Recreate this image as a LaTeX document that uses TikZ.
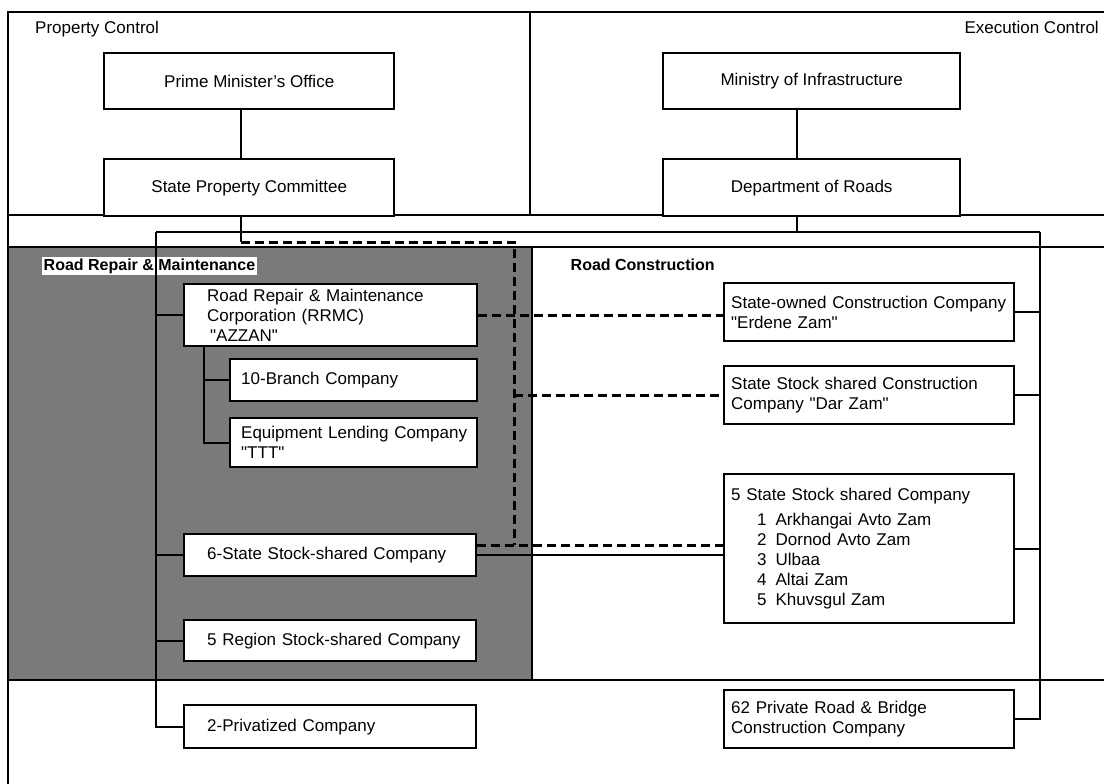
\documentclass[tikz,border=0pt]{standalone}
\usepackage{fontspec}
\setmainfont{Liberation Sans}
\newcommand{\qq}{\textquotedbl}
\newcommand{\ind}[1]{\hspace*{#1pt}}
\begin{document}
\begin{tikzpicture}[x=1pt,y=-1pt,
  every node/.style={font=\fontsize{17}{20}\selectfont},
  frame/.style={line width=1.6pt},
  box/.style={draw, line width=2.4pt, fill=white, anchor=north west, inner ysep=0pt},
  cbox/.style={box, align=center, inner xsep=0pt},
  lbox/.style={box, align=left, inner xsep=3pt},
  conn/.style={line width=2.2pt},
  dsh/.style={line width=3pt, dash pattern=on 9pt off 5pt},
  shadearea/.style={fill=black!52},
  lbl/.style={inner sep=0pt},
  seclbl/.style={font=\bfseries\fontsize{16}{20}\selectfont, inner sep=1.5pt}
]
\useasboundingbox (0,0) rectangle (1104,784);
\fill[white] (0,0) rectangle (1104,784);

% shaded area (Road Repair & Maintenance)
\fill[shadearea] (8,247) rectangle (532,680);

% frame lines
\draw[frame] (1104,12) -- (8,12) -- (8,784);
\draw[frame] (8,215) -- (1104,215);
\draw[frame] (530,12) -- (530,215);
\draw[frame] (8,247) -- (1104,247);
\draw[frame] (8,680) -- (1104,680);
\draw[frame] (532,247) -- (532,680);

% section labels
\node[lbl, anchor=base west] (pcl) at (35,34) {Property Control};
\node[lbl, anchor=base east] (ecl) at (1099,34) {Execution Control};
\node[seclbl, fill=white, anchor=base west] (rrml) at (42,270) {Road Repair \& Maintenance};
\node[seclbl, anchor=base west] (rcl) at (569,270) {Road Construction};

% top boxes
\node[cbox, minimum width=290pt, minimum height=56pt] (pmo) at (103,52) {Prime Minister's Office};
\node[cbox, minimum width=290pt, minimum height=57pt] (spc) at (103,158) {State Property Committee};
\node[cbox, minimum width=297pt, minimum height=56pt] (moi) at (662,52) {Ministry of Infrastructure};
\node[cbox, minimum width=297pt, minimum height=57pt] (dor) at (662,158) {Department of Roads};

% left boxes
\node[lbox, text width=287pt, minimum height=62pt] (rrmc) at (183,283)
  {\ind{20}Road Repair \& Maintenance\\\ind{20}Corporation (RRMC)\\\ind{23}\qq AZZAN\qq};
\node[lbox, text width=241pt, minimum height=42pt] (br10) at (229,358) {\ind{8}10-Branch Company};
\node[lbox, text width=241pt, minimum height=49pt] (elc) at (229,417) {\ind{8}Equipment Lending Company\\\ind{8}\qq TTT\qq};
\node[lbox, text width=286pt, minimum height=42pt] (s6) at (183,533) {\ind{20}6-State Stock-shared Company};
\node[lbox, text width=286pt, minimum height=41pt] (r5) at (183,619) {\ind{20}5 Region Stock-shared Company};
\node[lbox, text width=286pt, minimum height=43pt] (pv2) at (183,704) {\ind{20}2-Privatized Company};

% right boxes
\node[lbox, text width=284pt, minimum height=58pt] (erd) at (723,282)
  {\ind{4}State-owned Construction Company\\\ind{4}\qq Erdene Zam\qq};
\node[lbox, text width=284pt, minimum height=58pt] (dar) at (723,365)
  {\ind{4}State Stock shared Construction\\\ind{4}Company \qq Dar Zam\qq};
\node[lbox, text width=284pt, minimum height=149pt] (s5) at (723,473)
  {\ind{4}5 State Stock shared Company\\[5pt]
   \ind{30}1\hspace{9pt}Arkhangai Avto Zam\\
   \ind{30}2\hspace{9pt}Dornod Avto Zam\\
   \ind{30}3\hspace{9pt}Ulbaa\\
   \ind{30}4\hspace{9pt}Altai Zam\\
   \ind{30}5\hspace{9pt}Khuvsgul Zam};
\node[lbox, text width=284pt, minimum height=58pt] (pv62) at (723,689)
  {\ind{4}62 Private Road \& Bridge\\\ind{4}Construction Company};

% helper coordinates
\coordinate (cx1) at (241,0);
\coordinate (cx2) at (797,0);
\coordinate (bl) at (156,232);
\coordinate (br) at (1040,232);
\coordinate (bm) at (797,232);
\coordinate (sb) at (204,0);
\coordinate (dv) at (514,242);
\coordinate (d6) at (0,545);

% solid connectors
\draw[conn] (pmo.south -| cx1) -- (spc.north -| cx1);
\draw[conn] (moi.south -| cx2) -- (dor.north -| cx2);
\draw[conn] (dor.south -| bm) -- (bm);
\draw[conn] (bl) -- (br);
\draw[conn] (bl) |- (pv2.west);
\draw[conn] (br) |- (pv62.east);
\draw[conn] (rrmc.west -| bl) -- (rrmc.west);
\draw[conn] (s6.west -| bl) -- (s6.west);
\draw[conn] (r5.west -| bl) -- (r5.west);
\draw[conn] (rrmc.south -| sb) |- (elc.west);
\draw[conn] (br10.west -| sb) -- (br10.west);
\draw[conn] (erd.east) -- (erd.east -| br);
\draw[conn] (dar.east) -- (dar.east -| br);
\draw[conn] (s5.east) -- (s5.east -| br);
\draw[conn] (s6.east) -- (s6.east -| s5.west);
\draw[conn] (spc.south -| cx1) -- (cx1 |- dv);

% dashed connectors
\draw[dsh] (cx1 |- dv) -- (dv) -- (dv |- d6);
\draw[dsh] (rrmc.east) -- (rrmc.east -| erd.west);
\draw[dsh] (dv |- dar.west) -- (dar.west);
\draw[dsh] (s6.east |- d6) -- (s5.west |- d6);
\end{tikzpicture}
\end{document}
